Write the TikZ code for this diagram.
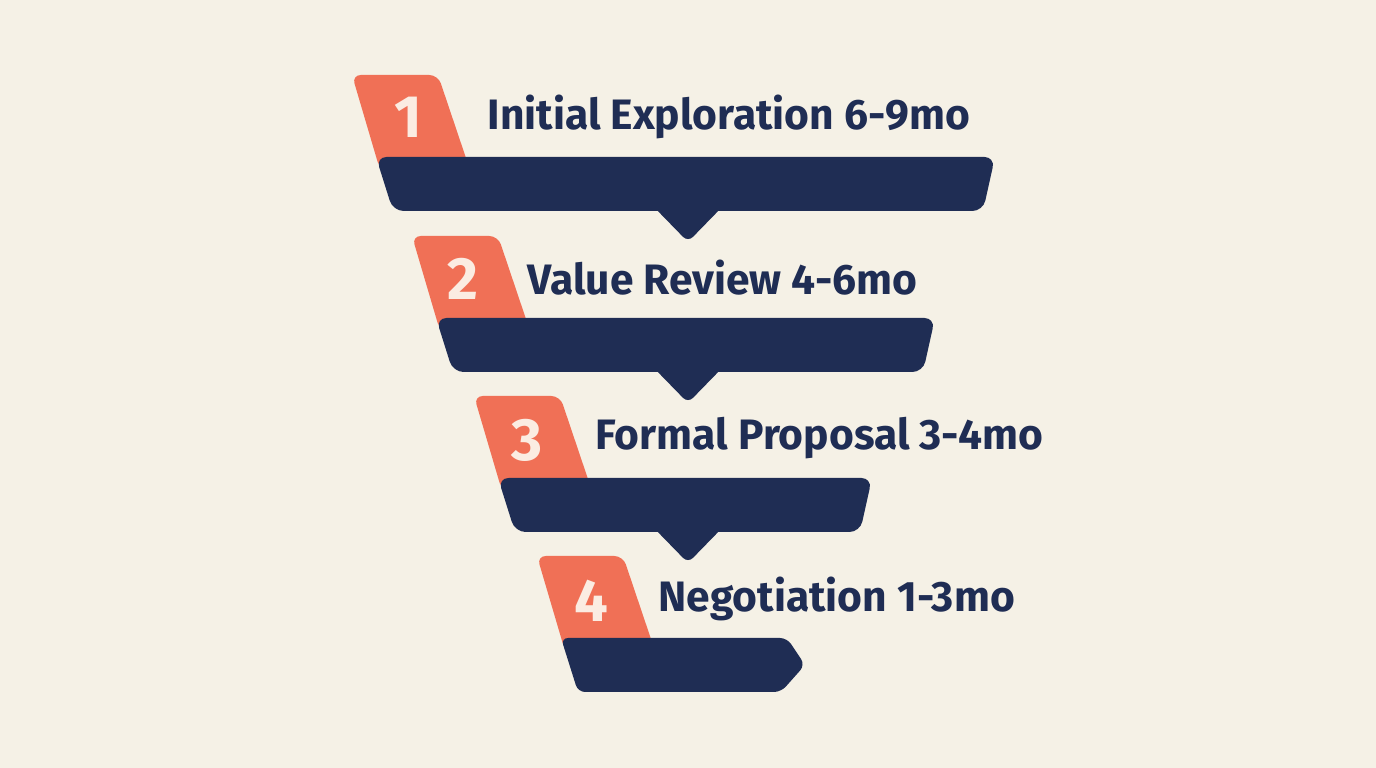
\documentclass[tikz,border=0pt]{standalone}
\usepackage{fontspec}
\setmainfont{Fira Sans}
\usepackage{tikz}
\definecolor{bg}{RGB}{245,241,230}
\definecolor{navy}{RGB}{31,45,84}
\definecolor{tab}{RGB}{240,112,86}
\definecolor{numtxt}{RGB}{251,236,226}
\newcommand{\stagetab}[2]{\fill[tab,rounded corners=2.5pt] (#1,#2)--++(86,0)--++(32,95)--++(-90,0)--cycle;}
\newcommand{\stagebar}[3]{\fill[navy,rounded corners=3pt] (#1+24,#2+82)--(#3,#2+82)--++(-12,54)--(#1+41,#2+136)--cycle;}
\newcommand{\pointer}[1]{\fill[navy,rounded corners=2pt] (651,#1)--++(74,0)--++(-37,38)--cycle;}
\tikzset{
  stagenum/.style={font=\fontsize{17}{17}\bfseries, text=numtxt},
  stagelabel/.style={anchor=west, font=\fontsize{12.1}{14}\bfseries, text=navy, inner sep=0pt}
}

\begin{document}
\begin{tikzpicture}[x=0.01cm,y=-0.01cm]
\fill[bg] (0,0) rectangle (1376,768);
\stagetab{352}{75}\stagebar{352}{75}{995}\pointer{204}
\stagetab{412}{236}\stagebar{412}{236}{935}\pointer{365}
\stagetab{474}{396}\stagebar{474}{396}{872}\pointer{525}
\stagetab{537}{556}
\fill[navy,rounded corners=2pt] (561,638)--(787,638)--(805,665)--(781,692)--(578,692)--cycle;
\node[stagenum] (num1) at (408,117) {1};
\node[stagenum] (num2) at (463,279) {2};
\node[stagenum] (num3) at (527,440) {3};
\node[stagenum] (num4) at (591,601) {4};
\node[stagelabel] (lbl1) at (487,117) {Initial Exploration 6-9mo};
\node[stagelabel] (lbl2) at (527,278) {Value Review 4-6mo};
\node[stagelabel] (lbl3) at (595,438) {Formal Proposal 3-4mo};
\node[stagelabel] (lbl4) at (658,599) {Negotiation 1-3mo};
\end{tikzpicture}
\end{document}
